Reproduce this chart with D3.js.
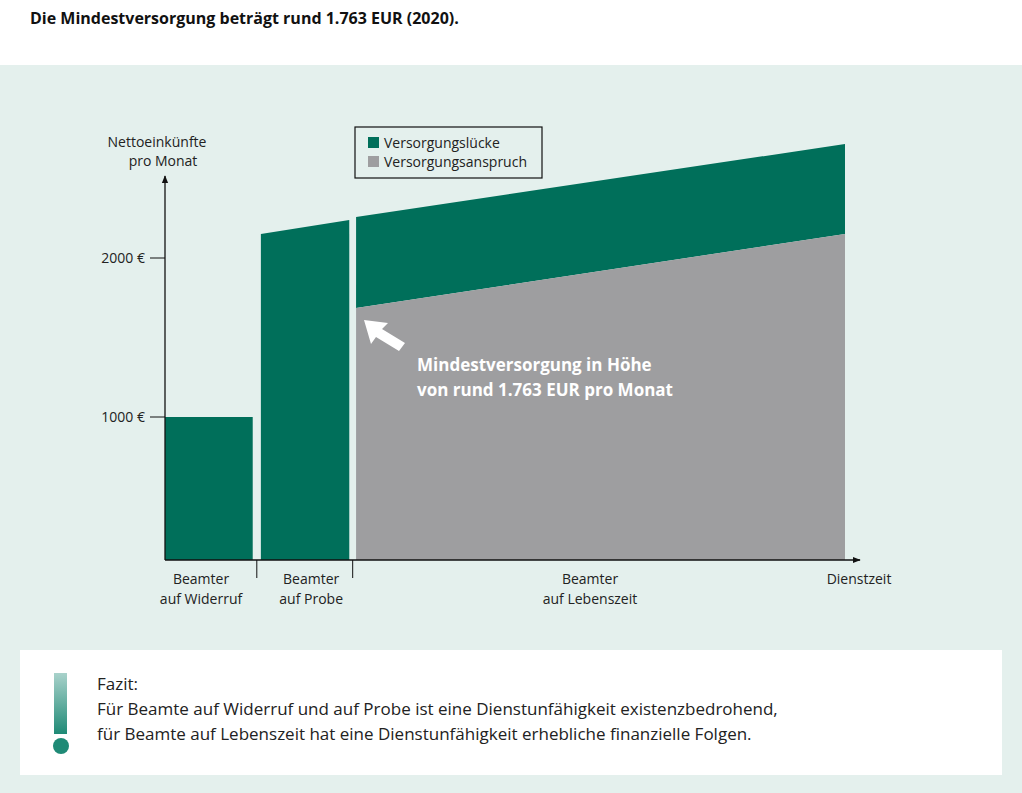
<!DOCTYPE html>
<html><head><meta charset="utf-8">
<script src="https://cdn.jsdelivr.net/npm/d3@7"></script>
<style>body{margin:0;background:#fff}svg{display:block;font-family:"Open Sans","Noto Sans",sans-serif}</style>
</head><body>
<svg id="c" width="1022" height="793"></svg>
<script>
// values (EUR / month), x in share of Dienstzeit (0..100)
var segments = ["Beamter auf Widerruf", "Beamter auf Probe", "Beamter auf Lebenszeit"];
var segStart = [0, 14.1, 28.1];
var segEnd = [12.9, 27.1, 100];
var gapTop = [[1000, 1000], [2151, 2239], [2258, 2717]];   // total income, left/right
var claimTop = [[0, 0], [0, 0], [1686, 2151]];             // Versorgungsanspruch
var yTicks = [1000, 2000];
var legendLabels = ["Versorgungslücke", "Versorgungsanspruch"];
var green = "#006f5a", grey = "#9e9ea0";

var svg = d3.select("#c");
svg.append("rect").attr("x", 0).attr("y", 65).attr("width", 1022).attr("height", 728).attr("fill", "#e4f0ed");
svg.append("text").attr("x", 30).attr("y", 24).attr("font-size", 16).attr("font-weight", "bold").attr("fill", "#111")
	.text("Die Mindestversorgung beträgt rund 1.763 EUR (2020).");

var x = d3.scaleLinear().domain([0, 100]).range([165, 845]);
var y = d3.scaleLinear().domain([1000, 2000]).range([417, 258]);
var base = 560;

// bars
segments.forEach(function(s, i) {
	var x0 = x(segStart[i]), x1 = x(segEnd[i]);
	var g = gapTop[i], c = claimTop[i];
	var botL = c[0] ? y(c[0]) : base, botR = c[1] ? y(c[1]) : base;
	svg.append("path").attr("fill", green)
		.attr("d", "M" + x0 + "," + y(g[0]) + "L" + x1 + "," + y(g[1]) + "L" + x1 + "," + botR + "L" + x0 + "," + botL + "Z");
	if (c[0]) {
		svg.append("path").attr("fill", grey)
			.attr("d", "M" + x0 + "," + y(c[0]) + "L" + x1 + "," + y(c[1]) + "L" + x1 + "," + base + "L" + x0 + "," + base + "Z");
	}
});

// axes
svg.append("defs").append("marker").attr("id", "ah").attr("viewBox", "0 0 10 10").attr("refX", 9).attr("refY", 5)
	.attr("markerWidth", 6).attr("markerHeight", 6).attr("orient", "auto")
	.append("path").attr("d", "M0,1L10,5L0,9Z").attr("fill", "#111");
svg.append("line").attr("x1", 165).attr("y1", base).attr("x2", 165).attr("y2", 176).attr("stroke", "#111").attr("stroke-width", 1.3).attr("marker-end", "url(#ah)");
svg.append("line").attr("x1", 165).attr("y1", base).attr("x2", 860).attr("y2", base).attr("stroke", "#111").attr("stroke-width", 1.3).attr("marker-end", "url(#ah)");
yTicks.forEach(function(t) {
	svg.append("line").attr("x1", 150).attr("x2", 165).attr("y1", y(t)).attr("y2", y(t)).attr("stroke", "#111");
	svg.append("text").attr("x", 145).attr("y", y(t) + 5).attr("text-anchor", "end").attr("font-size", 14).attr("fill", "#222").text(t + " €");
});
svg.append("text").attr("x", 157).attr("y", 147).attr("text-anchor", "middle").attr("font-size", 14).attr("fill", "#222").text("Nettoeinkünfte");
svg.append("text").attr("x", 163).attr("y", 166).attr("text-anchor", "middle").attr("font-size", 14).attr("fill", "#222").text("pro Monat");

// segment separators and labels
[13.5, 27.6].forEach(function(v) {
	svg.append("line").attr("x1", x(v)).attr("x2", x(v)).attr("y1", base).attr("y2", base + 18).attr("stroke", "#111");
});
var labelX = [x(5.3), x(21.5), x(62.5)];
segments.forEach(function(s, i) {
	var w = s.split(" ");
	svg.append("text").attr("x", labelX[i]).attr("y", 584).attr("text-anchor", "middle").attr("font-size", 14).attr("fill", "#222").text(w[0]);
	svg.append("text").attr("x", labelX[i]).attr("y", 604).attr("text-anchor", "middle").attr("font-size", 14).attr("fill", "#222").text(w[1] + " " + w[2]);
});
svg.append("text").attr("x", x(100) + 14).attr("y", 584).attr("text-anchor", "middle").attr("font-size", 14).attr("fill", "#222").text("Dienstzeit");

// legend
svg.append("rect").attr("x", 355).attr("y", 127).attr("width", 187).attr("height", 51).attr("fill", "none").attr("stroke", "#111").attr("stroke-width", 1.2);
legendLabels.forEach(function(l, i) {
	svg.append("rect").attr("x", 368).attr("y", 137 + i * 19).attr("width", 11).attr("height", 11).attr("fill", i ? grey : green);
	svg.append("text").attr("x", 384).attr("y", 148 + i * 19).attr("font-size", 14).attr("fill", "#222").text(l);
});

// annotation arrow
svg.append("path").attr("fill", "#fff")
	.attr("d", "M364,320L388,323L382,329L405,343L399,351L376,337L371,344Z");
svg.append("text").attr("x", 417).attr("y", 371).attr("font-size", 17).attr("font-weight", "bold").attr("fill", "#fff").text("Mindestversorgung in Höhe");
svg.append("text").attr("x", 417).attr("y", 396).attr("font-size", 17).attr("font-weight", "bold").attr("fill", "#fff").text("von rund 1.763 EUR pro Monat");

// Fazit box
svg.append("rect").attr("x", 20).attr("y", 650).attr("width", 982).attr("height", 125).attr("fill", "#fff");
var gr = svg.select("defs").append("linearGradient").attr("id", "ex").attr("x1", 0).attr("y1", 0).attr("x2", 0).attr("y2", 1);
gr.append("stop").attr("offset", 0).attr("stop-color", "#a9d2cb");
gr.append("stop").attr("offset", 1).attr("stop-color", "#1f8a76");
svg.append("rect").attr("x", 54).attr("y", 673).attr("width", 13).attr("height", 61).attr("fill", "url(#ex)");
svg.append("circle").attr("cx", 61).attr("cy", 746).attr("r", 8).attr("fill", "#1f8a76");
var fz = ["Fazit:", "Für Beamte auf Widerruf und auf Probe ist eine Dienstunfähigkeit existenzbedrohend,",
	"für Beamte auf Lebenszeit hat eine Dienstunfähigkeit erhebliche finanzielle Folgen."];
fz.forEach(function(t, i) {
	svg.append("text").attr("x", 97).attr("y", 690 + i * 25).attr("font-size", 17).attr("fill", "#222").text(t);
});
</script>
</body></html>
